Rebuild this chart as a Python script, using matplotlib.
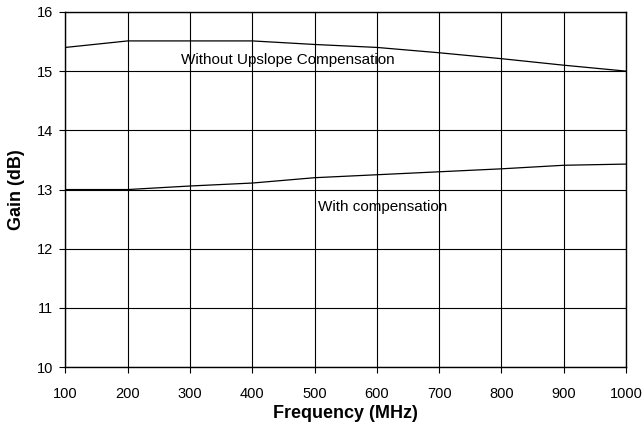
import numpy as np
import matplotlib.pyplot as plt

plt.rcParams['font.family'] = ['Liberation Sans', 'DejaVu Sans']

freq = [100, 200, 300, 400, 500, 600, 700, 800, 900, 1000]
gain_without = [15.40, 15.51, 15.51, 15.51, 15.45, 15.40, 15.31, 15.21, 15.10, 15.00]
gain_with = [13.00, 13.00, 13.06, 13.11, 13.20, 13.25, 13.30, 13.35, 13.41, 13.43]

fig, ax = plt.subplots(figsize=(6.42, 4.25), dpi=100)
fig.subplots_adjust(left=0.102, right=0.975, top=0.972, bottom=0.136)

ax.plot(freq, gain_without, color='black', lw=0.9)
ax.plot(freq, gain_with, color='black', lw=0.9)

ax.set_xlim(100, 1000)
ax.set_ylim(10, 16)
ax.set_xticks(np.arange(100, 1001, 100))
ax.set_yticks(np.arange(10, 17, 1))
ax.grid(True, color='black', lw=0.8)
for s in ax.spines.values():
    s.set_linewidth(1.0)
ax.tick_params(direction='out', length=4, width=0.8, labelsize=10.5)
ax.tick_params(axis='x', pad=10)
ax.tick_params(axis='y', pad=5)

ax.text(285, 15.19, 'Without Upslope Compensation', fontsize=11, va='center')
ax.text(505, 12.71, 'With compensation', fontsize=11, va='center')

ax.set_xlabel('Frequency (MHz)', fontsize=13, fontweight='bold', labelpad=3)
ax.set_ylabel('Gain (dB)', fontsize=13, fontweight='bold', labelpad=8)

fig.savefig('out.png', dpi=100)
